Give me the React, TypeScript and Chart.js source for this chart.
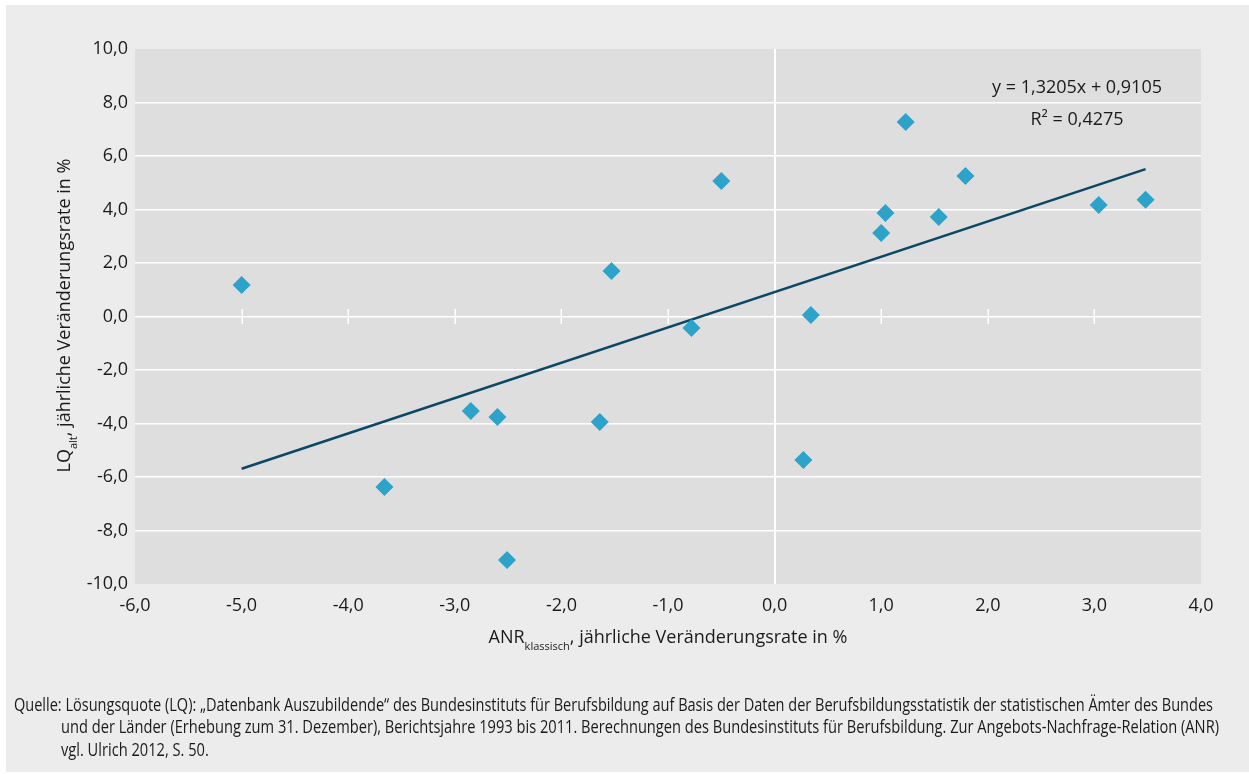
import React, { useEffect, useRef } from "react";
import { Chart, registerables } from "chart.js";

Chart.register(...registerables);

// ANR (klassisch) yearly change rate in % (x) vs LQ (alt) yearly change rate in % (y)
const ANR_X = [-5.0, -3.66, -2.85, -2.6, -2.51, -1.64, -1.53, -0.78, -0.5, 0.27, 0.34, 1.0, 1.04, 1.23, 1.54, 1.79, 3.04, 3.48];
const LQ_Y = [1.18, -6.37, -3.53, -3.76, -9.1, -3.94, 1.7, -0.43, 5.07, -5.36, 0.06, 3.12, 3.87, 7.27, 3.72, 5.25, 4.17, 4.36];

// Linear trend line end points (y = 1,3205x + 0,9105)
const TREND_X = [-5.0, 3.48];
const TREND_Y = [-5.69, 5.51];

const X_TICKS = [-6, -5, -4, -3, -2, -1, 0, 1, 2, 3, 4];
const Y_TICKS = [-10, -8, -6, -4, -2, 0, 2, 4, 6, 8, 10];

const EQUATION = "y = 1,3205x + 0,9105";
const R_SQUARED = "R² = 0,4275";

const X_TITLE = [
  { text: "ANR", sub: false },
  { text: "klassisch", sub: true },
  { text: ", jährliche Veränderungsrate in %", sub: false },
];
const Y_TITLE = [
  { text: "LQ", sub: false },
  { text: "alt", sub: true },
  { text: ", jährliche Veränderungsrate in %", sub: false },
];

const FOOTNOTE_LINES = [
  "Quelle: Lösungsquote (LQ): „Datenbank Auszubildende“ des Bundesinstituts für Berufsbildung auf Basis der Daten der Berufsbildungsstatistik der statistischen Ämter des Bundes",
  "und der Länder (Erhebung zum 31. Dezember), Berichtsjahre 1993 bis 2011. Berechnungen des Bundesinstituts für Berufsbildung. Zur Angebots-Nachfrage-Relation (ANR)",
  "vgl. Ulrich 2012, S. 50.",
];

const FONT = '"Open Sans", "DejaVu Sans", sans-serif';
const TEXT_COLOR = "#1b1b1b";

const fmt = (v: number) => v.toFixed(1).replace(".", ",");

function drawMixed(
  ctx: CanvasRenderingContext2D,
  parts: { text: string; sub: boolean }[],
  cx: number,
  baseline: number
) {
  const mainFont = `18px ${FONT}`;
  const subFont = `11px ${FONT}`;
  let total = 0;
  const widths = parts.map((p) => {
    ctx.font = p.sub ? subFont : mainFont;
    const w = ctx.measureText(p.text).width;
    total += w;
    return w;
  });
  let x = cx - total / 2;
  ctx.textAlign = "left";
  ctx.textBaseline = "alphabetic";
  parts.forEach((p, i) => {
    ctx.font = p.sub ? subFont : mainFont;
    ctx.fillText(p.text, x, baseline + (p.sub ? 6.5 : 0));
    x += widths[i];
  });
}

const decorPlugin = {
  id: "decor",
  beforeDraw(chart: any) {
    const { ctx, chartArea: a } = chart;
    ctx.save();
    ctx.fillStyle = "#ffffff";
    ctx.fillRect(0, 0, chart.width, chart.height);
    ctx.fillStyle = "#ececec";
    ctx.fillRect(6, 5, chart.width - 6, chart.height - 7);
    ctx.fillStyle = "#dedede";
    ctx.fillRect(a.left, a.top, a.right - a.left, a.bottom - a.top);
    ctx.restore();
  },
  beforeDatasetsDraw(chart: any) {
    const { ctx } = chart;
    const xs = chart.scales.x;
    const ys = chart.scales.y;
    const y0 = ys.getPixelForValue(0);
    ctx.save();
    ctx.strokeStyle = "#ffffff";
    ctx.lineWidth = 1.5;
    ctx.beginPath();
    X_TICKS.forEach((v) => {
      if (v > xs.min && v < xs.max && v !== 0) {
        const px = Math.round(xs.getPixelForValue(v)) + 0.25;
        ctx.moveTo(px, y0 - 7.5);
        ctx.lineTo(px, y0 + 7.5);
      }
    });
    ctx.stroke();
    ctx.restore();
  },
  afterDraw(chart: any) {
    const { ctx, chartArea: a } = chart;
    ctx.save();
    ctx.fillStyle = TEXT_COLOR;
    // x axis title
    drawMixed(ctx, X_TITLE, (a.left + a.right) / 2, 643);
    // y axis title
    ctx.save();
    ctx.translate(70, (a.top + a.bottom) / 2 - 1);
    ctx.rotate(-Math.PI / 2);
    drawMixed(ctx, Y_TITLE, 0, 0);
    ctx.restore();
    // regression equation
    ctx.font = `18px ${FONT}`;
    ctx.textAlign = "center";
    ctx.textBaseline = "alphabetic";
    ctx.fillText(EQUATION, 1077, 93);
    ctx.fillText(R_SQUARED, 1077, 125);
    ctx.restore();
  },
};

// footnote line boxes: left edge and target width (px)
const FOOT_LEFT = [14, 61, 61];
const FOOT_WIDTH = [1199, 1158, 0];

export default function App() {
  const canvasRef = useRef<HTMLCanvasElement | null>(null);
  const lineRefs = useRef<(HTMLSpanElement | null)[]>([]);

  useEffect(() => {
    // condense the footnote lines horizontally to match the narrow typeface
    let lastScale = 1;
    lineRefs.current.forEach((el, i) => {
      if (!el) return;
      const w = el.getBoundingClientRect().width;
      const s = FOOT_WIDTH[i] > 0 && w > 0 ? FOOT_WIDTH[i] / w : lastScale;
      lastScale = s;
      el.style.transform = `scaleX(${s})`;
    });
  }, []);

  useEffect(() => {
    if (!canvasRef.current) return;
    const points = ANR_X.map((x, i) => ({ x, y: LQ_Y[i] }));
    const trend = TREND_X.map((x, i) => ({ x, y: TREND_Y[i] }));
    const chart = new Chart(canvasRef.current, {
      type: "scatter",
      data: {
        datasets: [
          {
            type: "line",
            label: "Trend",
            data: trend,
            borderColor: "#0c4766",
            borderWidth: 2.5,
            pointRadius: 0,
            fill: false,
            order: 2,
          } as any,
          {
            label: "LQ vs ANR",
            data: points,
            pointStyle: "rectRot",
            pointRadius: 9,
            pointHoverRadius: 9,
            backgroundColor: "#2ea3c9",
            borderWidth: 0,
            order: 1,
          },
        ],
      },
      options: {
        animation: false,
        responsive: false,
        devicePixelRatio: 1,
        layout: { padding: { top: 49, right: 48, bottom: 150, left: 0 } },
        plugins: {
          legend: { display: false },
          tooltip: { enabled: false },
        },
        scales: {
          x: {
            type: "linear",
            min: -6,
            max: 4,
            afterBuildTicks: (s: any) => {
              s.ticks = X_TICKS.map((v) => ({ value: v }));
            },
            afterFit: (s: any) => {
              s.height = 40;
            },
            border: { display: false },
            grid: {
              drawTicks: false,
              lineWidth: 2,
              color: (c: any) => (c.tick && c.tick.value === 0 ? "#ffffff" : "rgba(0,0,0,0)"),
            },
            ticks: {
              padding: 11,
              maxRotation: 0,
              color: TEXT_COLOR,
              font: { family: FONT, size: 18 },
              callback: (v: any) => fmt(Number(v)),
            },
          },
          y: {
            type: "linear",
            min: -10,
            max: 10,
            afterBuildTicks: (s: any) => {
              s.ticks = Y_TICKS.map((v) => ({ value: v }));
            },
            afterFit: (s: any) => {
              s.width = 135;
            },
            border: { display: false },
            grid: {
              drawTicks: false,
              lineWidth: 1.5,
              color: (c: any) =>
                c.tick && Math.abs(c.tick.value) < 10 ? "#ffffff" : "rgba(0,0,0,0)",
            },
            ticks: {
              padding: 7,
              color: TEXT_COLOR,
              font: { family: FONT, size: 18 },
              callback: (v: any) => fmt(Number(v)),
            },
          },
        },
      },
      plugins: [decorPlugin],
    });
    return () => chart.destroy();
  }, []);

  return (
    <div style={{ position: "fixed", left: 0, top: 0, width: 1249, height: 774, overflow: "hidden" }}>
      <canvas ref={canvasRef} width={1249} height={774} style={{ display: "block", width: 1249, height: 774 }} />
      {FOOTNOTE_LINES.map((line, i) => (
        <span
          key={i}
          ref={(el) => {
            lineRefs.current[i] = el;
          }}
          style={{
            position: "absolute",
            left: FOOT_LEFT[i],
            top: 692.5 + i * 22.7,
            display: "inline-block",
            transformOrigin: "0 0",
            fontFamily: FONT,
            fontSize: 18,
            lineHeight: "22.7px",
            color: TEXT_COLOR,
            whiteSpace: "nowrap",
          }}
        >
          {line}
        </span>
      ))}
    </div>
  );
}
